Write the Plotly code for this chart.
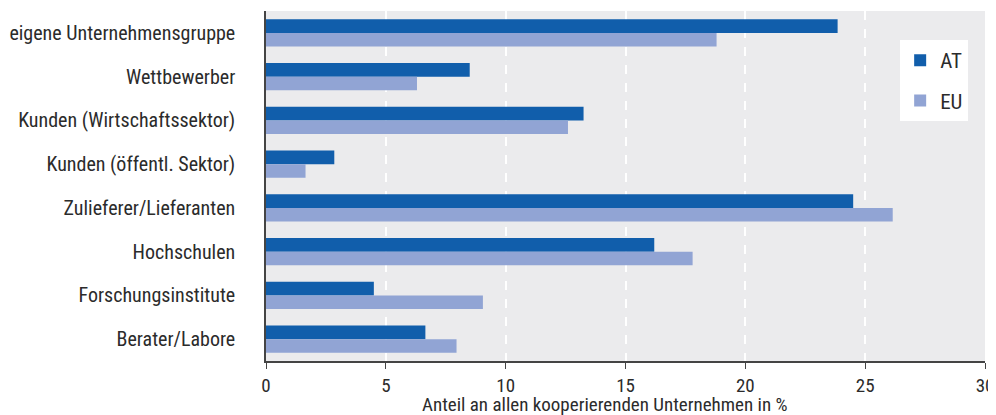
import plotly.graph_objects as go

categories = [
    "eigene Unternehmensgruppe",
    "Wettbewerber",
    "Kunden (Wirtschaftssektor)",
    "Kunden (öffentl. Sektor)",
    "Zulieferer/Lieferanten",
    "Hochschulen",
    "Forschungsinstitute",
    "Berater/Labore",
]
at_values = [23.85, 8.5, 13.25, 2.85, 24.5, 16.2, 4.5, 6.65]
eu_values = [18.8, 6.3, 12.6, 1.65, 26.15, 17.8, 9.05, 7.95]
x_ticks = [0, 5, 10, 15, 20, 25, 30]
x_title = "Anteil an allen kooperierenden Unternehmen in %"

FONT = "Liberation Sans Narrow, Roboto Condensed, DejaVu Sans Condensed, sans-serif"
TXT = "#2b2b2b"

fig = go.Figure()
fig.add_trace(go.Bar(y=categories, x=at_values, orientation="h", name="AT",
                     marker=dict(color="#115EAB", line=dict(width=0)), legendgroup="a"))
fig.add_trace(go.Bar(y=categories, x=eu_values, orientation="h", name="EU",
                     marker=dict(color="#91A4D4", line=dict(width=0)), legendgroup="b"))

fig.add_annotation(text=x_title, xref="paper", yref="paper",
                   x=0.4715, y=-0.124, xanchor="center", yanchor="middle",
                   showarrow=False, font=dict(size=19, color=TXT))

# page body adds an 8px offset; figure sized so the plot lands where the reference has it
fig.update_layout(
    width=988, height=407,
    margin=dict(l=258, r=11, t=3, b=54),
    paper_bgcolor="white",
    plot_bgcolor="#EBEBED",
    barmode="group",
    bargap=0.38,
    bargroupgap=0,
    font=dict(family=FONT, size=20, color=TXT),
    legend=dict(x=0.882, y=0.917, xanchor="left", yanchor="top",
                bgcolor="white", font=dict(size=21, color=TXT),
                tracegroupgap=10, traceorder="grouped"),
    xaxis=dict(range=[0, 30], tickvals=x_ticks, ticktext=[str(v) for v in x_ticks],
               showgrid=True, gridcolor="white", griddash="dash", gridwidth=1.5,
               zeroline=False, showline=True, linecolor="#444", linewidth=1.5,
               ticks="outside", ticklen=6, tickcolor="#444", automargin=False,
               tickfont=dict(size=19, color=TXT)),
    yaxis=dict(autorange="reversed", showgrid=False, zeroline=False,
               showline=True, linecolor="#444", linewidth=1.5,
               ticks="", ticklabelstandoff=25, automargin=False,
               tickfont=dict(size=20, color=TXT)),
)

fig.write_html("out.html")
